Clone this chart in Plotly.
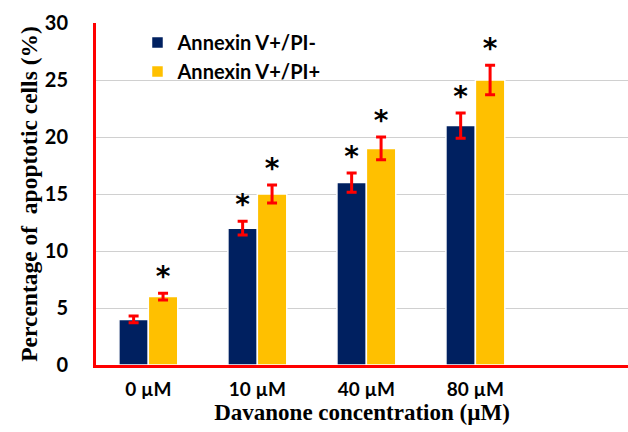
import plotly.graph_objects as go

categories = ["0 µM", "10 µM", "40 µM", "80 µM"]
pi_neg = [4, 12, 16, 21]
pi_neg_err = [0.3, 0.6, 0.85, 1.1]
pi_pos = [6, 15, 19, 25]
pi_pos_err = [0.3, 0.8, 1.0, 1.3]
pi_neg_sig = [False, True, True, True]
pi_pos_sig = [True, True, True, True]

bargap = 0.46
bw = (1 - bargap) / 2
xi = list(range(len(categories)))

fig = go.Figure()
fig.add_bar(x=xi, y=pi_neg, name="Annexin V+/PI-",
            marker=dict(color="#002060", line=dict(color="white", width=1.5)),
            error_y=dict(type="data", array=pi_neg_err, color="#FF0000", thickness=3, width=5))
fig.add_bar(x=xi, y=pi_pos, name="Annexin V+/PI+",
            marker=dict(color="#FFC000", line=dict(color="white", width=1.5)),
            error_y=dict(type="data", array=pi_pos_err, color="#FF0000", thickness=3, width=5))

sx, sy = [], []
for i in xi:
    if pi_neg_sig[i]:
        sx.append(i - bw / 2); sy.append(pi_neg[i] + pi_neg_err[i])
    if pi_pos_sig[i]:
        sx.append(i + bw / 2); sy.append(pi_pos[i] + pi_pos_err[i])
fig.add_scatter(x=sx, y=sy, mode="text", text=["*"] * len(sx), textposition="top center",
                textfont=dict(family="DejaVu Sans", size=28, color="black", weight="bold"),
                showlegend=False, hoverinfo="skip")

sans = dict(family="Lato", color="black", weight="bold")
serif = dict(family="Liberation Serif", color="black", weight="bold")

fig.update_layout(
    width=628, height=432,
    margin=dict(l=96, r=0, t=23, b=67),
    paper_bgcolor="white", plot_bgcolor="white",
    barmode="group", bargap=bargap, bargroupgap=0,
    showlegend=True,
    legend=dict(x=0.078, y=1.0, xanchor="left", yanchor="top", bgcolor="rgba(0,0,0,0)",
                font=dict(size=20, **sans), itemwidth=30, tracegroupgap=0),
    xaxis=dict(range=[-0.48, 4.4], tickvals=xi, ticktext=categories,
               showline=True, linecolor="#FF0000", linewidth=3, showgrid=False, zeroline=False,
               ticks="outside", ticklen=5, tickcolor="rgba(0,0,0,0)",
               tickfont=dict(size=19, **sans),
               title=dict(text="Davanone concentration (µM)", standoff=3,
                          font=dict(size=23, **serif))),
    yaxis=dict(range=[0, 30], dtick=5, showline=True, linecolor="#FF0000", linewidth=3,
               showgrid=True, gridcolor="#D0D0D0", gridwidth=1, zeroline=False,
               ticks="outside", ticklen=21, tickcolor="rgba(0,0,0,0)",
               tickfont=dict(size=20, **sans),
               title=dict(text="Percentage of  apoptotic cells (%)", standoff=1,
                          font=dict(size=23.5, **serif))),
)
fig.write_html("out.html")
